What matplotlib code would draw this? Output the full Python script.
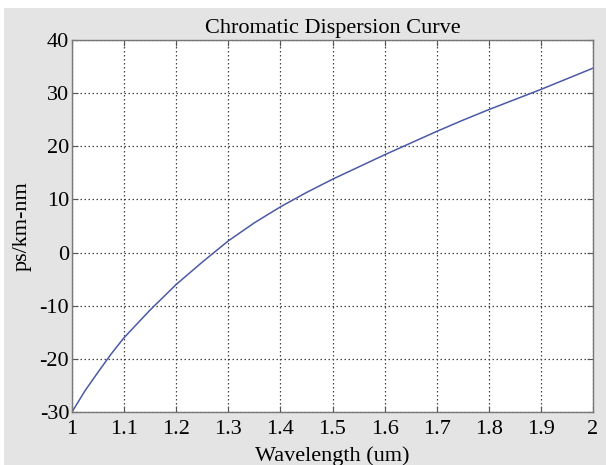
import numpy as np
import matplotlib.pyplot as plt
from matplotlib.patches import Rectangle

# values
wavelength = [1.00, 1.025, 1.05, 1.075, 1.10, 1.15, 1.20, 1.25, 1.30, 1.35, 1.40,
              1.45, 1.50, 1.55, 1.60, 1.65, 1.70, 1.75, 1.80, 1.85, 1.90,
              1.95, 2.00]
dispersion = [-30.0, -26.0, -22.5, -19.1, -16.0, -10.8, -6.0, -1.8, 2.2, 5.6, 8.6,
              11.3, 13.8, 16.1, 18.4, 20.6, 22.8, 24.9, 26.9, 28.8, 30.7,
              32.7, 34.7]
x_ticks = [1, 1.1, 1.2, 1.3, 1.4, 1.5, 1.6, 1.7, 1.8, 1.9, 2]
x_labels = ["1", "1.1", "1.2", "1.3", "1.4", "1.5", "1.6", "1.7", "1.8", "1.9", "2"]
y_ticks = [-30, -20, -10, 0, 10, 20, 30, 40]

plt.rcParams["font.family"] = ["Liberation Serif", "DejaVu Serif"]
plt.rcParams["axes.unicode_minus"] = False

W, H = 606, 465
fig = plt.figure(figsize=(W / 100, H / 100), dpi=100, facecolor="white")
fig.patches.append(Rectangle((4 / W, 0), 1, (H - 8) / H, transform=fig.transFigure,
                             facecolor="#e4e4e4", edgecolor="none", zorder=-10))

ax = fig.add_axes([72 / W, (H - 412) / H, (593 - 72) / W, (412 - 40) / H])
ax.plot(wavelength, dispersion, color="#4b5aa6", lw=1.1)

ax.set_xlim(1, 2)
ax.set_ylim(-30, 40)
ax.set_xticks(x_ticks, labels=x_labels)
ax.set_yticks(y_ticks)
ax.grid(True, linestyle=(0, (1.2, 2.0)), color="#444444", lw=0.9)
ax.tick_params(direction="in", length=4, top=True, right=True,
               labelsize=16, color="#555555")
ax.tick_params(axis="x", pad=6)
ax.tick_params(axis="y", pad=2)
for s in ax.spines.values():
    s.set_color("#777777")
    s.set_linewidth(1.0)

ax.set_title("Chromatic Dispersion Curve", fontsize=16, pad=5)
ax.set_xlabel("Wavelength (um)", fontsize=16, labelpad=5)
ax.set_ylabel("ps/km-nm", fontsize=16, labelpad=6)

fig.savefig("out.png", dpi=100)
